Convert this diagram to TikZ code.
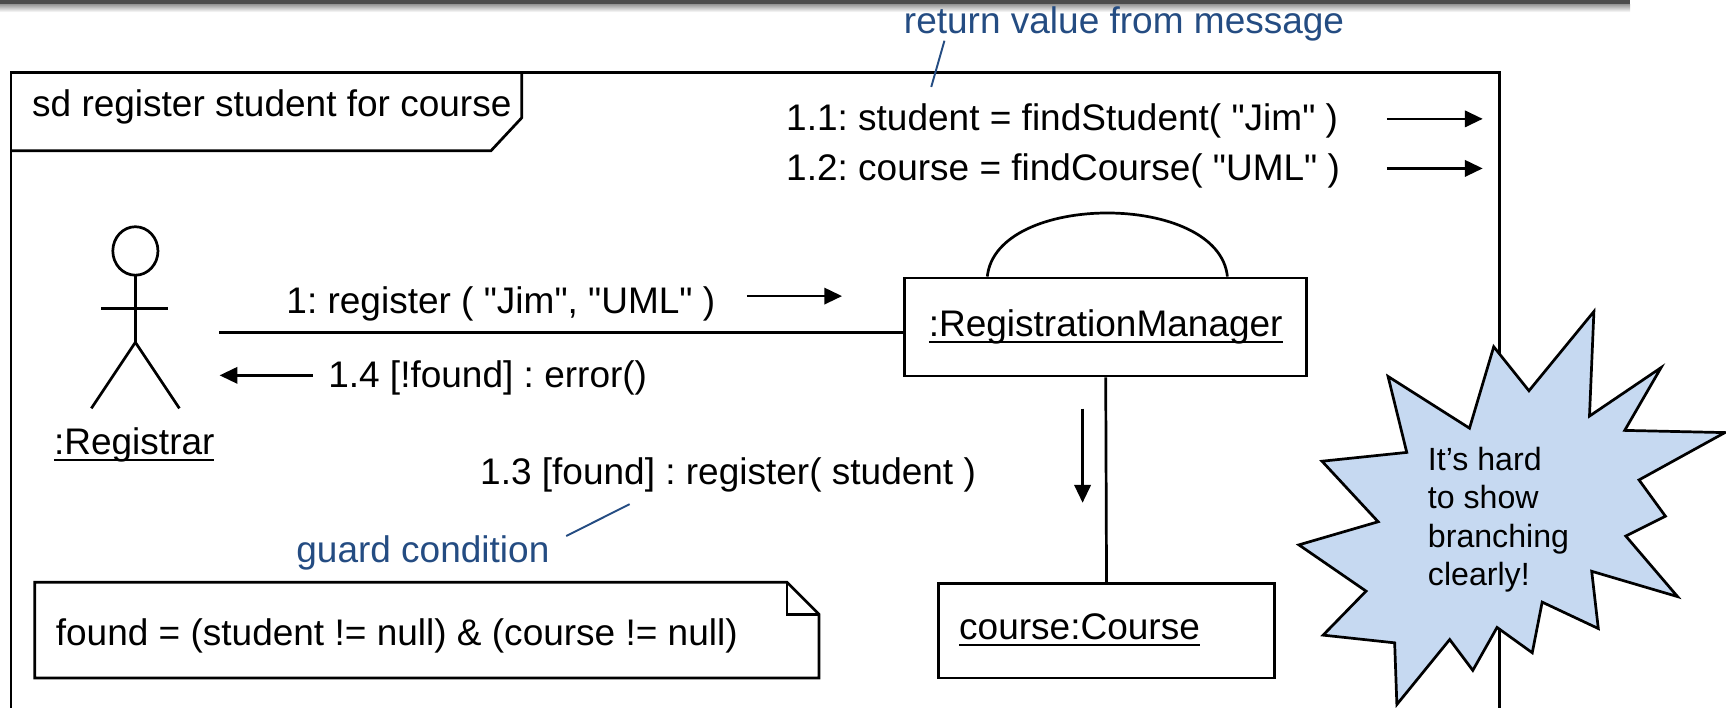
\documentclass[tikz,border=0pt]{standalone}
\usepackage{fontspec}
\setmainfont{Liberation Sans}[Ligatures=TeXOff]
\usetikzlibrary{arrows.meta}
\definecolor{annot}{RGB}{36,76,130}
\definecolor{burst}{RGB}{198,217,241}
\newcommand{\uname}[1]{\underline{\raisebox{0pt}[\height][0pt]{#1}}}
\frenchspacing
\begin{document}
\begin{tikzpicture}[x=0.01cm,y=-0.01cm,line width=0.7pt,
  lbl/.style={inner sep=0pt,font=\fontsize{9.56}{11.5}\selectfont},
  obj/.style={draw,lbl},
  msg/.style={-{Triangle[length=4.6pt,width=4.2pt]}},
  pointer/.style={draw=annot,line width=0.5pt}]
\useasboundingbox (0,0) rectangle (1568,643);
% slide bar
\fill[black!70] (0,0) rectangle (1481,4);
\shade[top color=black!40,bottom color=white] (0,4) rectangle (1481,11);
% frame and tab
\draw (10,643) -- (10,66) -- (1362,66) -- (1362,643);
\draw (10,137) -- (446,137) -- (474,107) -- (474,66);
\node[lbl,anchor=base west] (sd) at (28,106) {sd register student for course};
% actor
\draw (123,228) ellipse [x radius=0.205cm, y radius=0.22cm];
\draw (123,250) -- (123,311);
\draw (92,280) -- (153,280);
\draw (83,371) -- (123,311) -- (163,371);
\node[lbl,anchor=base] (reg) at (122,413) {\uname{:Registrar}};
\coordinate (regR) at (199,302);
% objects
\node[obj,minimum width=3.65cm,minimum height=0.89cm] (mgr) at (1004.5,297) {\uname{:RegistrationManager}};
\node[obj,minimum width=3.055cm,minimum height=0.86cm,text width=2.675cm,inner xsep=0.19cm,align=left] (course) at (1005.25,573) {\uname{course:Course}};
% links
\draw (regR) -- (regR -| mgr.west);
\draw (mgr.south) -- (course.north);
\draw ([xshift=-1.075cm]mgr.north) .. controls +(8,-77) and +(-8,-77) .. ([xshift=1.105cm]mgr.north);
% messages
\node[lbl,anchor=base west] (m1) at (259,285) {1: register ( "Jim", "UML" )};
\draw[msg] ([shift={(419.5,-16)}]m1.base west) -- +(86.5,0);
\node[lbl,anchor=base west] (m11) at (713,119) {1.1: student = findStudent( "Jim" )};
\draw[msg] ([shift={(547,-11)}]m11.base west) -- +(87,0);
\node[lbl,anchor=base west] (m12) at (713,164) {1.2: course = findCourse( "UML" )};
\draw[msg] ([shift={(547,-11)}]m12.base west) -- +(87,0);
\node[lbl,anchor=base west] (m13) at (435,440.5) {1.3 [found] : register( student )};
\draw[msg] ([shift={(-21,28.5)}]mgr.south) -- +(0,85.5);
\node[lbl,anchor=base west] (m14) at (297,352) {1.4 [!found] : error()};
\draw[msg] ([shift={(-13,-11)}]m14.base west) -- +(-84.5,0);
% annotations
\node[lbl,anchor=base west,text=annot] (rv) at (820,30) {return value from message};
\draw[pointer] ([shift={(38,7)}]rv.base west) -- ([shift={(133,-40)}]m11.base west);
\node[lbl,anchor=base west,text=annot] (gc) at (268,511) {guard condition};
\draw[pointer] ([shift={(14,-24)}]gc.base east) -- ([shift={(137,17.5)}]m13.base west);
% note
\draw (31.5,529) -- (715,529) -- (744,558) -- (744,616) -- (31.5,616) -- cycle;
\draw (715,529) -- (715,558) -- (744,558);
\node[lbl,anchor=base west] (cond) at (49.5,586) {found = (student != null) \& (course != null)};
% burst
\filldraw[fill=burst] (1448,283) -- (1444,378) -- (1509,334) -- (1476,391) -- (1567,393)
  -- (1489,436) -- (1513,469) -- (1477,487) -- (1524,542) -- (1446,519) -- (1452,571)
  -- (1401,547) -- (1392,593) -- (1360,570) -- (1338,609) -- (1317,581) -- (1269,640)
  -- (1267,584) -- (1202,577) -- (1241,537) -- (1180,495) -- (1252,474) -- (1201,419)
  -- (1278,411) -- (1261,342) -- (1335,389) -- (1357,315) -- (1389,355) -- cycle;
\node[inner sep=0pt,anchor=north west,align=left,font=\fontsize{8.3}{9.9}\selectfont] (hard) at (1296,405) {It’s hard\\to show\\branching\\clearly!};
\end{tikzpicture}
\end{document}
